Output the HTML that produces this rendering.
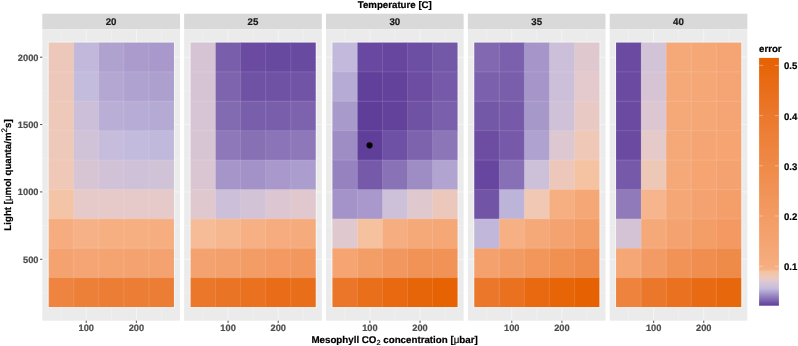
<!DOCTYPE html>
<html><head><meta charset="utf-8"><title>Temperature [C]</title>
<style>
html,body{margin:0;padding:0;background:#fff;}
svg{display:block;}
text{font-family:"Liberation Sans",sans-serif;font-weight:bold;font-size:9.7px;text-rendering:geometricPrecision;stroke-width:0.2px;}
text[fill="#000"]{stroke:#000;}text[fill="#4d4d4d"]{stroke:#4d4d4d;}text[fill="#1a1a1a"]{stroke:#1a1a1a;}
</style></head><body>
<svg width="798" height="346" viewBox="0 0 798 346">
<rect width="798" height="346" fill="#ffffff"/>
<g >

<text x="394.8" y="7.6" text-anchor="middle" fill="#000">Temperature [C]</text>
<rect x="42.30" y="13.7" width="137.65" height="15.55" fill="#d9d9d9"/>
<text x="111.1" y="24.5" text-anchor="middle" fill="#1a1a1a">20</text>
<rect x="42.30" y="29.25" width="137.65" height="291.45" fill="#ebebeb"/>
<line x1="42.30" x2="179.95" y1="292.98" y2="292.98" stroke="#fff" stroke-width="0.25"/>
<line x1="42.30" x2="179.95" y1="225.61" y2="225.61" stroke="#fff" stroke-width="0.25"/>
<line x1="42.30" x2="179.95" y1="158.25" y2="158.25" stroke="#fff" stroke-width="0.25"/>
<line x1="42.30" x2="179.95" y1="90.88" y2="90.88" stroke="#fff" stroke-width="0.25"/>
<line y1="29.25" y2="320.7" x1="61.18" x2="61.18" stroke="#fff" stroke-width="0.25"/>
<line y1="29.25" y2="320.7" x1="111.30" x2="111.30" stroke="#fff" stroke-width="0.25"/>
<line y1="29.25" y2="320.7" x1="161.42" x2="161.42" stroke="#fff" stroke-width="0.25"/>
<line x1="42.30" x2="179.95" y1="259.29" y2="259.29" stroke="#fff" stroke-width="0.5"/>
<line x1="42.30" x2="179.95" y1="191.93" y2="191.93" stroke="#fff" stroke-width="0.5"/>
<line x1="42.30" x2="179.95" y1="124.56" y2="124.56" stroke="#fff" stroke-width="0.5"/>
<line x1="42.30" x2="179.95" y1="57.20" y2="57.20" stroke="#fff" stroke-width="0.5"/>
<line y1="29.25" y2="320.7" x1="86.24" x2="86.24" stroke="#fff" stroke-width="0.5"/>
<line y1="29.25" y2="320.7" x1="136.36" x2="136.36" stroke="#fff" stroke-width="0.5"/>
<rect x="48.65" y="42.45" width="25.66" height="30.01" fill="#edc8ba"/>
<rect x="73.71" y="42.45" width="25.66" height="30.01" fill="#c1b8db"/>
<rect x="98.77" y="42.45" width="25.66" height="30.01" fill="#afa2cf"/>
<rect x="123.83" y="42.45" width="25.66" height="30.01" fill="#aa9bcc"/>
<rect x="148.89" y="42.45" width="25.06" height="30.01" fill="#a898cb"/>
<rect x="48.65" y="71.86" width="25.66" height="30.01" fill="#edc8ba"/>
<rect x="73.71" y="71.86" width="25.66" height="30.01" fill="#c4bcdc"/>
<rect x="98.77" y="71.86" width="25.66" height="30.01" fill="#b4a8d3"/>
<rect x="123.83" y="71.86" width="25.66" height="30.01" fill="#afa2d0"/>
<rect x="148.89" y="71.86" width="25.06" height="30.01" fill="#ada0ce"/>
<rect x="48.65" y="101.26" width="25.66" height="30.01" fill="#eec8b8"/>
<rect x="73.71" y="101.26" width="25.66" height="30.01" fill="#cbbfda"/>
<rect x="98.77" y="101.26" width="25.66" height="30.01" fill="#b9aed6"/>
<rect x="123.83" y="101.26" width="25.66" height="30.01" fill="#b7acd5"/>
<rect x="148.89" y="101.26" width="25.06" height="30.01" fill="#b5aad4"/>
<rect x="48.65" y="130.67" width="25.66" height="30.01" fill="#eec8b8"/>
<rect x="73.71" y="130.67" width="25.66" height="30.01" fill="#d0c2d7"/>
<rect x="98.77" y="130.67" width="25.66" height="30.01" fill="#c6bcdc"/>
<rect x="123.83" y="130.67" width="25.66" height="30.01" fill="#c3bbdd"/>
<rect x="148.89" y="130.67" width="25.06" height="30.01" fill="#c1b9dc"/>
<rect x="48.65" y="160.07" width="25.66" height="30.01" fill="#efc8b7"/>
<rect x="73.71" y="160.07" width="25.66" height="30.01" fill="#d7c5d4"/>
<rect x="98.77" y="160.07" width="25.66" height="30.01" fill="#d1c2d7"/>
<rect x="123.83" y="160.07" width="25.66" height="30.01" fill="#cfc1d8"/>
<rect x="148.89" y="160.07" width="25.06" height="30.01" fill="#d0c2d7"/>
<rect x="48.65" y="189.48" width="25.66" height="30.01" fill="#f4c4a6"/>
<rect x="73.71" y="189.48" width="25.66" height="30.01" fill="#e6c9c9"/>
<rect x="98.77" y="189.48" width="25.66" height="30.01" fill="#e6c9c9"/>
<rect x="123.83" y="189.48" width="25.66" height="30.01" fill="#e6c9c9"/>
<rect x="148.89" y="189.48" width="25.06" height="30.01" fill="#e6c9c9"/>
<rect x="48.65" y="218.88" width="25.66" height="30.01" fill="#f6ac7e"/>
<rect x="73.71" y="218.88" width="25.66" height="30.01" fill="#f6b286"/>
<rect x="98.77" y="218.88" width="25.66" height="30.01" fill="#f6af81"/>
<rect x="123.83" y="218.88" width="25.66" height="30.01" fill="#f6af81"/>
<rect x="148.89" y="218.88" width="25.06" height="30.01" fill="#f6ae80"/>
<rect x="48.65" y="248.29" width="25.66" height="30.01" fill="#f4a370"/>
<rect x="73.71" y="248.29" width="25.66" height="30.01" fill="#f5a573"/>
<rect x="98.77" y="248.29" width="25.66" height="30.01" fill="#f4a471"/>
<rect x="123.83" y="248.29" width="25.66" height="30.01" fill="#f4a370"/>
<rect x="148.89" y="248.29" width="25.06" height="30.01" fill="#f4a370"/>
<rect x="48.65" y="277.69" width="25.66" height="29.41" fill="#ee843f"/>
<rect x="73.71" y="277.69" width="25.66" height="29.41" fill="#ed8039"/>
<rect x="98.77" y="277.69" width="25.66" height="29.41" fill="#ec7d35"/>
<rect x="123.83" y="277.69" width="25.66" height="29.41" fill="#ec7d35"/>
<rect x="148.89" y="277.69" width="25.06" height="29.41" fill="#ec7d35"/>
<rect x="48.15" y="41.95" width="126.30" height="265.65" fill="none" stroke="#fff" stroke-opacity="0.45" stroke-width="1"/>
<line x1="48.65" x2="173.95" y1="71.86" y2="71.86" stroke="#fff" stroke-opacity="0.22" stroke-width="0.6"/>
<line x1="48.65" x2="173.95" y1="101.26" y2="101.26" stroke="#fff" stroke-opacity="0.22" stroke-width="0.6"/>
<line x1="48.65" x2="173.95" y1="130.67" y2="130.67" stroke="#fff" stroke-opacity="0.22" stroke-width="0.6"/>
<line x1="48.65" x2="173.95" y1="160.07" y2="160.07" stroke="#fff" stroke-opacity="0.22" stroke-width="0.6"/>
<line x1="48.65" x2="173.95" y1="189.48" y2="189.48" stroke="#fff" stroke-opacity="0.22" stroke-width="0.6"/>
<line x1="48.65" x2="173.95" y1="218.88" y2="218.88" stroke="#fff" stroke-opacity="0.22" stroke-width="0.6"/>
<line x1="48.65" x2="173.95" y1="248.29" y2="248.29" stroke="#fff" stroke-opacity="0.22" stroke-width="0.6"/>
<line x1="48.65" x2="173.95" y1="277.69" y2="277.69" stroke="#fff" stroke-opacity="0.22" stroke-width="0.6"/>
<line y1="42.45" y2="307.10" x1="73.71" x2="73.71" stroke="#fff" stroke-opacity="0.22" stroke-width="0.6"/>
<line y1="42.45" y2="307.10" x1="98.77" x2="98.77" stroke="#fff" stroke-opacity="0.22" stroke-width="0.6"/>
<line y1="42.45" y2="307.10" x1="123.83" x2="123.83" stroke="#fff" stroke-opacity="0.22" stroke-width="0.6"/>
<line y1="42.45" y2="307.10" x1="148.89" x2="148.89" stroke="#fff" stroke-opacity="0.22" stroke-width="0.6"/>
<line x1="86.24" x2="86.24" y1="320.7" y2="322.9" stroke="#333" stroke-width="0.9"/>
<text x="86.24" y="331.1" text-anchor="middle" fill="#4d4d4d" style="font-size:9.25px">100</text>
<line x1="136.36" x2="136.36" y1="320.7" y2="322.9" stroke="#333" stroke-width="0.9"/>
<text x="136.36" y="331.1" text-anchor="middle" fill="#4d4d4d" style="font-size:9.25px">200</text>
<rect x="184.15" y="13.7" width="137.65" height="15.55" fill="#d9d9d9"/>
<text x="253.0" y="24.5" text-anchor="middle" fill="#1a1a1a">25</text>
<rect x="184.15" y="29.25" width="137.65" height="291.45" fill="#ebebeb"/>
<line x1="184.15" x2="321.80" y1="292.98" y2="292.98" stroke="#fff" stroke-width="0.25"/>
<line x1="184.15" x2="321.80" y1="225.61" y2="225.61" stroke="#fff" stroke-width="0.25"/>
<line x1="184.15" x2="321.80" y1="158.25" y2="158.25" stroke="#fff" stroke-width="0.25"/>
<line x1="184.15" x2="321.80" y1="90.88" y2="90.88" stroke="#fff" stroke-width="0.25"/>
<line y1="29.25" y2="320.7" x1="203.03" x2="203.03" stroke="#fff" stroke-width="0.25"/>
<line y1="29.25" y2="320.7" x1="253.15" x2="253.15" stroke="#fff" stroke-width="0.25"/>
<line y1="29.25" y2="320.7" x1="303.27" x2="303.27" stroke="#fff" stroke-width="0.25"/>
<line x1="184.15" x2="321.80" y1="259.29" y2="259.29" stroke="#fff" stroke-width="0.5"/>
<line x1="184.15" x2="321.80" y1="191.93" y2="191.93" stroke="#fff" stroke-width="0.5"/>
<line x1="184.15" x2="321.80" y1="124.56" y2="124.56" stroke="#fff" stroke-width="0.5"/>
<line x1="184.15" x2="321.80" y1="57.20" y2="57.20" stroke="#fff" stroke-width="0.5"/>
<line y1="29.25" y2="320.7" x1="228.09" x2="228.09" stroke="#fff" stroke-width="0.5"/>
<line y1="29.25" y2="320.7" x1="278.21" x2="278.21" stroke="#fff" stroke-width="0.5"/>
<rect x="190.50" y="42.45" width="25.66" height="30.01" fill="#d6c4d4"/>
<rect x="215.56" y="42.45" width="25.66" height="30.01" fill="#795fab"/>
<rect x="240.62" y="42.45" width="25.66" height="30.01" fill="#6a4ba1"/>
<rect x="265.68" y="42.45" width="25.66" height="30.01" fill="#6849a0"/>
<rect x="290.74" y="42.45" width="25.06" height="30.01" fill="#694aa1"/>
<rect x="190.50" y="71.86" width="25.66" height="30.01" fill="#d6c4d4"/>
<rect x="215.56" y="71.86" width="25.66" height="30.01" fill="#7e64ae"/>
<rect x="240.62" y="71.86" width="25.66" height="30.01" fill="#7052a5"/>
<rect x="265.68" y="71.86" width="25.66" height="30.01" fill="#7052a5"/>
<rect x="290.74" y="71.86" width="25.06" height="30.01" fill="#7154a6"/>
<rect x="190.50" y="101.26" width="25.66" height="30.01" fill="#d7c4d4"/>
<rect x="215.56" y="101.26" width="25.66" height="30.01" fill="#836bb2"/>
<rect x="240.62" y="101.26" width="25.66" height="30.01" fill="#795fab"/>
<rect x="265.68" y="101.26" width="25.66" height="30.01" fill="#795fab"/>
<rect x="290.74" y="101.26" width="25.06" height="30.01" fill="#7d63ae"/>
<rect x="190.50" y="130.67" width="25.66" height="30.01" fill="#d8c5d3"/>
<rect x="215.56" y="130.67" width="25.66" height="30.01" fill="#8e78b9"/>
<rect x="240.62" y="130.67" width="25.66" height="30.01" fill="#8870b5"/>
<rect x="265.68" y="130.67" width="25.66" height="30.01" fill="#8b74b7"/>
<rect x="290.74" y="130.67" width="25.06" height="30.01" fill="#8e78b9"/>
<rect x="190.50" y="160.07" width="25.66" height="30.01" fill="#dac6d2"/>
<rect x="215.56" y="160.07" width="25.66" height="30.01" fill="#a595c9"/>
<rect x="240.62" y="160.07" width="25.66" height="30.01" fill="#a292c7"/>
<rect x="265.68" y="160.07" width="25.66" height="30.01" fill="#a898cb"/>
<rect x="290.74" y="160.07" width="25.06" height="30.01" fill="#ab9dcd"/>
<rect x="190.50" y="189.48" width="25.66" height="30.01" fill="#e0c8cf"/>
<rect x="215.56" y="189.48" width="25.66" height="30.01" fill="#cbbfda"/>
<rect x="240.62" y="189.48" width="25.66" height="30.01" fill="#d3c3d6"/>
<rect x="265.68" y="189.48" width="25.66" height="30.01" fill="#dcc6d2"/>
<rect x="290.74" y="189.48" width="25.06" height="30.01" fill="#e1c8cf"/>
<rect x="190.50" y="218.88" width="25.66" height="30.01" fill="#f5bc97"/>
<rect x="215.56" y="218.88" width="25.66" height="30.01" fill="#f6b78f"/>
<rect x="240.62" y="218.88" width="25.66" height="30.01" fill="#f6b084"/>
<rect x="265.68" y="218.88" width="25.66" height="30.01" fill="#f6ac7e"/>
<rect x="290.74" y="218.88" width="25.06" height="30.01" fill="#f6ab7c"/>
<rect x="190.50" y="248.29" width="25.66" height="30.01" fill="#f4a370"/>
<rect x="215.56" y="248.29" width="25.66" height="30.01" fill="#f4a06c"/>
<rect x="240.62" y="248.29" width="25.66" height="30.01" fill="#f39c66"/>
<rect x="265.68" y="248.29" width="25.66" height="30.01" fill="#f39961"/>
<rect x="290.74" y="248.29" width="25.06" height="30.01" fill="#f2985f"/>
<rect x="190.50" y="277.69" width="25.66" height="29.41" fill="#eb772b"/>
<rect x="215.56" y="277.69" width="25.66" height="29.41" fill="#ea7425"/>
<rect x="240.62" y="277.69" width="25.66" height="29.41" fill="#e9711f"/>
<rect x="265.68" y="277.69" width="25.66" height="29.41" fill="#e96d18"/>
<rect x="290.74" y="277.69" width="25.06" height="29.41" fill="#e96e1a"/>
<rect x="190.00" y="41.95" width="126.30" height="265.65" fill="none" stroke="#fff" stroke-opacity="0.45" stroke-width="1"/>
<line x1="190.50" x2="315.80" y1="71.86" y2="71.86" stroke="#fff" stroke-opacity="0.22" stroke-width="0.6"/>
<line x1="190.50" x2="315.80" y1="101.26" y2="101.26" stroke="#fff" stroke-opacity="0.22" stroke-width="0.6"/>
<line x1="190.50" x2="315.80" y1="130.67" y2="130.67" stroke="#fff" stroke-opacity="0.22" stroke-width="0.6"/>
<line x1="190.50" x2="315.80" y1="160.07" y2="160.07" stroke="#fff" stroke-opacity="0.22" stroke-width="0.6"/>
<line x1="190.50" x2="315.80" y1="189.48" y2="189.48" stroke="#fff" stroke-opacity="0.22" stroke-width="0.6"/>
<line x1="190.50" x2="315.80" y1="218.88" y2="218.88" stroke="#fff" stroke-opacity="0.22" stroke-width="0.6"/>
<line x1="190.50" x2="315.80" y1="248.29" y2="248.29" stroke="#fff" stroke-opacity="0.22" stroke-width="0.6"/>
<line x1="190.50" x2="315.80" y1="277.69" y2="277.69" stroke="#fff" stroke-opacity="0.22" stroke-width="0.6"/>
<line y1="42.45" y2="307.10" x1="215.56" x2="215.56" stroke="#fff" stroke-opacity="0.22" stroke-width="0.6"/>
<line y1="42.45" y2="307.10" x1="240.62" x2="240.62" stroke="#fff" stroke-opacity="0.22" stroke-width="0.6"/>
<line y1="42.45" y2="307.10" x1="265.68" x2="265.68" stroke="#fff" stroke-opacity="0.22" stroke-width="0.6"/>
<line y1="42.45" y2="307.10" x1="290.74" x2="290.74" stroke="#fff" stroke-opacity="0.22" stroke-width="0.6"/>
<line x1="228.09" x2="228.09" y1="320.7" y2="322.9" stroke="#333" stroke-width="0.9"/>
<text x="228.09" y="331.1" text-anchor="middle" fill="#4d4d4d" style="font-size:9.25px">100</text>
<line x1="278.21" x2="278.21" y1="320.7" y2="322.9" stroke="#333" stroke-width="0.9"/>
<text x="278.21" y="331.1" text-anchor="middle" fill="#4d4d4d" style="font-size:9.25px">200</text>
<rect x="326.00" y="13.7" width="137.65" height="15.55" fill="#d9d9d9"/>
<text x="394.8" y="24.5" text-anchor="middle" fill="#1a1a1a">30</text>
<rect x="326.00" y="29.25" width="137.65" height="291.45" fill="#ebebeb"/>
<line x1="326.00" x2="463.65" y1="292.98" y2="292.98" stroke="#fff" stroke-width="0.25"/>
<line x1="326.00" x2="463.65" y1="225.61" y2="225.61" stroke="#fff" stroke-width="0.25"/>
<line x1="326.00" x2="463.65" y1="158.25" y2="158.25" stroke="#fff" stroke-width="0.25"/>
<line x1="326.00" x2="463.65" y1="90.88" y2="90.88" stroke="#fff" stroke-width="0.25"/>
<line y1="29.25" y2="320.7" x1="344.88" x2="344.88" stroke="#fff" stroke-width="0.25"/>
<line y1="29.25" y2="320.7" x1="395.00" x2="395.00" stroke="#fff" stroke-width="0.25"/>
<line y1="29.25" y2="320.7" x1="445.12" x2="445.12" stroke="#fff" stroke-width="0.25"/>
<line x1="326.00" x2="463.65" y1="259.29" y2="259.29" stroke="#fff" stroke-width="0.5"/>
<line x1="326.00" x2="463.65" y1="191.93" y2="191.93" stroke="#fff" stroke-width="0.5"/>
<line x1="326.00" x2="463.65" y1="124.56" y2="124.56" stroke="#fff" stroke-width="0.5"/>
<line x1="326.00" x2="463.65" y1="57.20" y2="57.20" stroke="#fff" stroke-width="0.5"/>
<line y1="29.25" y2="320.7" x1="369.94" x2="369.94" stroke="#fff" stroke-width="0.5"/>
<line y1="29.25" y2="320.7" x1="420.06" x2="420.06" stroke="#fff" stroke-width="0.5"/>
<rect x="332.35" y="42.45" width="25.66" height="30.01" fill="#c2b9dc"/>
<rect x="357.41" y="42.45" width="25.66" height="30.01" fill="#6848a0"/>
<rect x="382.47" y="42.45" width="25.66" height="30.01" fill="#66469e"/>
<rect x="407.53" y="42.45" width="25.66" height="30.01" fill="#6c4ea3"/>
<rect x="432.59" y="42.45" width="25.06" height="30.01" fill="#7458a8"/>
<rect x="332.35" y="71.86" width="25.66" height="30.01" fill="#b6abd4"/>
<rect x="357.41" y="71.86" width="25.66" height="30.01" fill="#61409b"/>
<rect x="382.47" y="71.86" width="25.66" height="30.01" fill="#63429c"/>
<rect x="407.53" y="71.86" width="25.66" height="30.01" fill="#6c4da2"/>
<rect x="432.59" y="71.86" width="25.06" height="30.01" fill="#765aa9"/>
<rect x="332.35" y="101.26" width="25.66" height="30.01" fill="#a99acc"/>
<rect x="357.41" y="101.26" width="25.66" height="30.01" fill="#5f3e9a"/>
<rect x="382.47" y="101.26" width="25.66" height="30.01" fill="#63429c"/>
<rect x="407.53" y="101.26" width="25.66" height="30.01" fill="#7052a5"/>
<rect x="432.59" y="101.26" width="25.06" height="30.01" fill="#7a5fac"/>
<rect x="332.35" y="130.67" width="25.66" height="30.01" fill="#9e8cc4"/>
<rect x="357.41" y="130.67" width="25.66" height="30.01" fill="#603f9b"/>
<rect x="382.47" y="130.67" width="25.66" height="30.01" fill="#6e50a4"/>
<rect x="407.53" y="130.67" width="25.66" height="30.01" fill="#7d63ae"/>
<rect x="432.59" y="130.67" width="25.06" height="30.01" fill="#8c76b8"/>
<rect x="332.35" y="160.07" width="25.66" height="30.01" fill="#9682bf"/>
<rect x="357.41" y="160.07" width="25.66" height="30.01" fill="#765aa9"/>
<rect x="382.47" y="160.07" width="25.66" height="30.01" fill="#8972b6"/>
<rect x="407.53" y="160.07" width="25.66" height="30.01" fill="#9e8cc4"/>
<rect x="432.59" y="160.07" width="25.06" height="30.01" fill="#b1a4d1"/>
<rect x="332.35" y="189.48" width="25.66" height="30.01" fill="#a393c8"/>
<rect x="357.41" y="189.48" width="25.66" height="30.01" fill="#a898cb"/>
<rect x="382.47" y="189.48" width="25.66" height="30.01" fill="#cdc0d9"/>
<rect x="407.53" y="189.48" width="25.66" height="30.01" fill="#e0c8cf"/>
<rect x="432.59" y="189.48" width="25.06" height="30.01" fill="#ecc8bc"/>
<rect x="332.35" y="218.88" width="25.66" height="30.01" fill="#e0c8cf"/>
<rect x="357.41" y="218.88" width="25.66" height="30.01" fill="#f5c19e"/>
<rect x="382.47" y="218.88" width="25.66" height="30.01" fill="#f6ad7f"/>
<rect x="407.53" y="218.88" width="25.66" height="30.01" fill="#f5a878"/>
<rect x="432.59" y="218.88" width="25.06" height="30.01" fill="#f5a776"/>
<rect x="332.35" y="248.29" width="25.66" height="30.01" fill="#f5a472"/>
<rect x="357.41" y="248.29" width="25.66" height="30.01" fill="#f39d67"/>
<rect x="382.47" y="248.29" width="25.66" height="30.01" fill="#f2975e"/>
<rect x="407.53" y="248.29" width="25.66" height="30.01" fill="#f19357"/>
<rect x="432.59" y="248.29" width="25.06" height="30.01" fill="#f19357"/>
<rect x="332.35" y="277.69" width="25.66" height="29.41" fill="#eb7629"/>
<rect x="357.41" y="277.69" width="25.66" height="29.41" fill="#e96f1b"/>
<rect x="382.47" y="277.69" width="25.66" height="29.41" fill="#e86910"/>
<rect x="407.53" y="277.69" width="25.66" height="29.41" fill="#e76509"/>
<rect x="432.59" y="277.69" width="25.06" height="29.41" fill="#e66203"/>
<rect x="331.85" y="41.95" width="126.30" height="265.65" fill="none" stroke="#fff" stroke-opacity="0.45" stroke-width="1"/>
<line x1="332.35" x2="457.65" y1="71.86" y2="71.86" stroke="#fff" stroke-opacity="0.22" stroke-width="0.6"/>
<line x1="332.35" x2="457.65" y1="101.26" y2="101.26" stroke="#fff" stroke-opacity="0.22" stroke-width="0.6"/>
<line x1="332.35" x2="457.65" y1="130.67" y2="130.67" stroke="#fff" stroke-opacity="0.22" stroke-width="0.6"/>
<line x1="332.35" x2="457.65" y1="160.07" y2="160.07" stroke="#fff" stroke-opacity="0.22" stroke-width="0.6"/>
<line x1="332.35" x2="457.65" y1="189.48" y2="189.48" stroke="#fff" stroke-opacity="0.22" stroke-width="0.6"/>
<line x1="332.35" x2="457.65" y1="218.88" y2="218.88" stroke="#fff" stroke-opacity="0.22" stroke-width="0.6"/>
<line x1="332.35" x2="457.65" y1="248.29" y2="248.29" stroke="#fff" stroke-opacity="0.22" stroke-width="0.6"/>
<line x1="332.35" x2="457.65" y1="277.69" y2="277.69" stroke="#fff" stroke-opacity="0.22" stroke-width="0.6"/>
<line y1="42.45" y2="307.10" x1="357.41" x2="357.41" stroke="#fff" stroke-opacity="0.22" stroke-width="0.6"/>
<line y1="42.45" y2="307.10" x1="382.47" x2="382.47" stroke="#fff" stroke-opacity="0.22" stroke-width="0.6"/>
<line y1="42.45" y2="307.10" x1="407.53" x2="407.53" stroke="#fff" stroke-opacity="0.22" stroke-width="0.6"/>
<line y1="42.45" y2="307.10" x1="432.59" x2="432.59" stroke="#fff" stroke-opacity="0.22" stroke-width="0.6"/>
<line x1="369.94" x2="369.94" y1="320.7" y2="322.9" stroke="#333" stroke-width="0.9"/>
<text x="369.94" y="331.1" text-anchor="middle" fill="#4d4d4d" style="font-size:9.25px">100</text>
<line x1="420.06" x2="420.06" y1="320.7" y2="322.9" stroke="#333" stroke-width="0.9"/>
<text x="420.06" y="331.1" text-anchor="middle" fill="#4d4d4d" style="font-size:9.25px">200</text>
<rect x="467.85" y="13.7" width="137.65" height="15.55" fill="#d9d9d9"/>
<text x="536.7" y="24.5" text-anchor="middle" fill="#1a1a1a">35</text>
<rect x="467.85" y="29.25" width="137.65" height="291.45" fill="#ebebeb"/>
<line x1="467.85" x2="605.50" y1="292.98" y2="292.98" stroke="#fff" stroke-width="0.25"/>
<line x1="467.85" x2="605.50" y1="225.61" y2="225.61" stroke="#fff" stroke-width="0.25"/>
<line x1="467.85" x2="605.50" y1="158.25" y2="158.25" stroke="#fff" stroke-width="0.25"/>
<line x1="467.85" x2="605.50" y1="90.88" y2="90.88" stroke="#fff" stroke-width="0.25"/>
<line y1="29.25" y2="320.7" x1="486.73" x2="486.73" stroke="#fff" stroke-width="0.25"/>
<line y1="29.25" y2="320.7" x1="536.85" x2="536.85" stroke="#fff" stroke-width="0.25"/>
<line y1="29.25" y2="320.7" x1="586.97" x2="586.97" stroke="#fff" stroke-width="0.25"/>
<line x1="467.85" x2="605.50" y1="259.29" y2="259.29" stroke="#fff" stroke-width="0.5"/>
<line x1="467.85" x2="605.50" y1="191.93" y2="191.93" stroke="#fff" stroke-width="0.5"/>
<line x1="467.85" x2="605.50" y1="124.56" y2="124.56" stroke="#fff" stroke-width="0.5"/>
<line x1="467.85" x2="605.50" y1="57.20" y2="57.20" stroke="#fff" stroke-width="0.5"/>
<line y1="29.25" y2="320.7" x1="511.79" x2="511.79" stroke="#fff" stroke-width="0.5"/>
<line y1="29.25" y2="320.7" x1="561.91" x2="561.91" stroke="#fff" stroke-width="0.5"/>
<rect x="474.20" y="42.45" width="25.66" height="30.01" fill="#8168b1"/>
<rect x="499.26" y="42.45" width="25.66" height="30.01" fill="#7b61ad"/>
<rect x="524.32" y="42.45" width="25.66" height="30.01" fill="#a595c9"/>
<rect x="549.38" y="42.45" width="25.66" height="30.01" fill="#cbbfda"/>
<rect x="574.44" y="42.45" width="25.06" height="30.01" fill="#e0c8cf"/>
<rect x="474.20" y="71.86" width="25.66" height="30.01" fill="#7b61ad"/>
<rect x="499.26" y="71.86" width="25.66" height="30.01" fill="#795fab"/>
<rect x="524.32" y="71.86" width="25.66" height="30.01" fill="#a595c9"/>
<rect x="549.38" y="71.86" width="25.66" height="30.01" fill="#cbbfda"/>
<rect x="574.44" y="71.86" width="25.06" height="30.01" fill="#e4c9cd"/>
<rect x="474.20" y="101.26" width="25.66" height="30.01" fill="#7458a8"/>
<rect x="499.26" y="101.26" width="25.66" height="30.01" fill="#765aa9"/>
<rect x="524.32" y="101.26" width="25.66" height="30.01" fill="#a798ca"/>
<rect x="549.38" y="101.26" width="25.66" height="30.01" fill="#cfc1d8"/>
<rect x="574.44" y="101.26" width="25.06" height="30.01" fill="#e8c9c4"/>
<rect x="474.20" y="130.67" width="25.66" height="30.01" fill="#6c4da2"/>
<rect x="499.26" y="130.67" width="25.66" height="30.01" fill="#765aa9"/>
<rect x="524.32" y="130.67" width="25.66" height="30.01" fill="#afa2d0"/>
<rect x="549.38" y="130.67" width="25.66" height="30.01" fill="#ddc7d1"/>
<rect x="574.44" y="130.67" width="25.06" height="30.01" fill="#efc8b7"/>
<rect x="474.20" y="160.07" width="25.66" height="30.01" fill="#66469e"/>
<rect x="499.26" y="160.07" width="25.66" height="30.01" fill="#8770b5"/>
<rect x="524.32" y="160.07" width="25.66" height="30.01" fill="#cdc0d9"/>
<rect x="549.38" y="160.07" width="25.66" height="30.01" fill="#edc8ba"/>
<rect x="574.44" y="160.07" width="25.06" height="30.01" fill="#f5c3a2"/>
<rect x="474.20" y="189.48" width="25.66" height="30.01" fill="#7154a6"/>
<rect x="499.26" y="189.48" width="25.66" height="30.01" fill="#bdb4d9"/>
<rect x="524.32" y="189.48" width="25.66" height="30.01" fill="#f0c8b4"/>
<rect x="549.38" y="189.48" width="25.66" height="30.01" fill="#f6af81"/>
<rect x="574.44" y="189.48" width="25.06" height="30.01" fill="#f5a776"/>
<rect x="474.20" y="218.88" width="25.66" height="30.01" fill="#c0b7db"/>
<rect x="499.26" y="218.88" width="25.66" height="30.01" fill="#f6b084"/>
<rect x="524.32" y="218.88" width="25.66" height="30.01" fill="#f5a979"/>
<rect x="549.38" y="218.88" width="25.66" height="30.01" fill="#f4a370"/>
<rect x="574.44" y="218.88" width="25.06" height="30.01" fill="#f39d67"/>
<rect x="474.20" y="248.29" width="25.66" height="30.01" fill="#f4a16d"/>
<rect x="499.26" y="248.29" width="25.66" height="30.01" fill="#f39b64"/>
<rect x="524.32" y="248.29" width="25.66" height="30.01" fill="#f2965b"/>
<rect x="549.38" y="248.29" width="25.66" height="30.01" fill="#f09051"/>
<rect x="574.44" y="248.29" width="25.06" height="30.01" fill="#ef8c4b"/>
<rect x="474.20" y="277.69" width="25.66" height="29.41" fill="#eb772b"/>
<rect x="499.26" y="277.69" width="25.66" height="29.41" fill="#e9711f"/>
<rect x="524.32" y="277.69" width="25.66" height="29.41" fill="#e86910"/>
<rect x="549.38" y="277.69" width="25.66" height="29.41" fill="#e76407"/>
<rect x="574.44" y="277.69" width="25.06" height="29.41" fill="#e66101"/>
<rect x="473.70" y="41.95" width="126.30" height="265.65" fill="none" stroke="#fff" stroke-opacity="0.45" stroke-width="1"/>
<line x1="474.20" x2="599.50" y1="71.86" y2="71.86" stroke="#fff" stroke-opacity="0.22" stroke-width="0.6"/>
<line x1="474.20" x2="599.50" y1="101.26" y2="101.26" stroke="#fff" stroke-opacity="0.22" stroke-width="0.6"/>
<line x1="474.20" x2="599.50" y1="130.67" y2="130.67" stroke="#fff" stroke-opacity="0.22" stroke-width="0.6"/>
<line x1="474.20" x2="599.50" y1="160.07" y2="160.07" stroke="#fff" stroke-opacity="0.22" stroke-width="0.6"/>
<line x1="474.20" x2="599.50" y1="189.48" y2="189.48" stroke="#fff" stroke-opacity="0.22" stroke-width="0.6"/>
<line x1="474.20" x2="599.50" y1="218.88" y2="218.88" stroke="#fff" stroke-opacity="0.22" stroke-width="0.6"/>
<line x1="474.20" x2="599.50" y1="248.29" y2="248.29" stroke="#fff" stroke-opacity="0.22" stroke-width="0.6"/>
<line x1="474.20" x2="599.50" y1="277.69" y2="277.69" stroke="#fff" stroke-opacity="0.22" stroke-width="0.6"/>
<line y1="42.45" y2="307.10" x1="499.26" x2="499.26" stroke="#fff" stroke-opacity="0.22" stroke-width="0.6"/>
<line y1="42.45" y2="307.10" x1="524.32" x2="524.32" stroke="#fff" stroke-opacity="0.22" stroke-width="0.6"/>
<line y1="42.45" y2="307.10" x1="549.38" x2="549.38" stroke="#fff" stroke-opacity="0.22" stroke-width="0.6"/>
<line y1="42.45" y2="307.10" x1="574.44" x2="574.44" stroke="#fff" stroke-opacity="0.22" stroke-width="0.6"/>
<line x1="511.79" x2="511.79" y1="320.7" y2="322.9" stroke="#333" stroke-width="0.9"/>
<text x="511.79" y="331.1" text-anchor="middle" fill="#4d4d4d" style="font-size:9.25px">100</text>
<line x1="561.91" x2="561.91" y1="320.7" y2="322.9" stroke="#333" stroke-width="0.9"/>
<text x="561.91" y="331.1" text-anchor="middle" fill="#4d4d4d" style="font-size:9.25px">200</text>
<rect x="609.70" y="13.7" width="137.65" height="15.55" fill="#d9d9d9"/>
<text x="678.5" y="24.5" text-anchor="middle" fill="#1a1a1a">40</text>
<rect x="609.70" y="29.25" width="137.65" height="291.45" fill="#ebebeb"/>
<line x1="609.70" x2="747.35" y1="292.98" y2="292.98" stroke="#fff" stroke-width="0.25"/>
<line x1="609.70" x2="747.35" y1="225.61" y2="225.61" stroke="#fff" stroke-width="0.25"/>
<line x1="609.70" x2="747.35" y1="158.25" y2="158.25" stroke="#fff" stroke-width="0.25"/>
<line x1="609.70" x2="747.35" y1="90.88" y2="90.88" stroke="#fff" stroke-width="0.25"/>
<line y1="29.25" y2="320.7" x1="628.58" x2="628.58" stroke="#fff" stroke-width="0.25"/>
<line y1="29.25" y2="320.7" x1="678.70" x2="678.70" stroke="#fff" stroke-width="0.25"/>
<line y1="29.25" y2="320.7" x1="728.82" x2="728.82" stroke="#fff" stroke-width="0.25"/>
<line x1="609.70" x2="747.35" y1="259.29" y2="259.29" stroke="#fff" stroke-width="0.5"/>
<line x1="609.70" x2="747.35" y1="191.93" y2="191.93" stroke="#fff" stroke-width="0.5"/>
<line x1="609.70" x2="747.35" y1="124.56" y2="124.56" stroke="#fff" stroke-width="0.5"/>
<line x1="609.70" x2="747.35" y1="57.20" y2="57.20" stroke="#fff" stroke-width="0.5"/>
<line y1="29.25" y2="320.7" x1="653.64" x2="653.64" stroke="#fff" stroke-width="0.5"/>
<line y1="29.25" y2="320.7" x1="703.76" x2="703.76" stroke="#fff" stroke-width="0.5"/>
<rect x="616.05" y="42.45" width="25.66" height="30.01" fill="#6a4ba1"/>
<rect x="641.11" y="42.45" width="25.66" height="30.01" fill="#d3c3d6"/>
<rect x="666.17" y="42.45" width="25.66" height="30.01" fill="#f5a979"/>
<rect x="691.23" y="42.45" width="25.66" height="30.01" fill="#f5a776"/>
<rect x="716.29" y="42.45" width="25.06" height="30.01" fill="#f5a573"/>
<rect x="616.05" y="71.86" width="25.66" height="30.01" fill="#6a4ba1"/>
<rect x="641.11" y="71.86" width="25.66" height="30.01" fill="#d6c4d4"/>
<rect x="666.17" y="71.86" width="25.66" height="30.01" fill="#f5a979"/>
<rect x="691.23" y="71.86" width="25.66" height="30.01" fill="#f5a776"/>
<rect x="716.29" y="71.86" width="25.06" height="30.01" fill="#f5a573"/>
<rect x="616.05" y="101.26" width="25.66" height="30.01" fill="#6a4ba1"/>
<rect x="641.11" y="101.26" width="25.66" height="30.01" fill="#dcc6d1"/>
<rect x="666.17" y="101.26" width="25.66" height="30.01" fill="#f5a979"/>
<rect x="691.23" y="101.26" width="25.66" height="30.01" fill="#f5a776"/>
<rect x="716.29" y="101.26" width="25.06" height="30.01" fill="#f5a573"/>
<rect x="616.05" y="130.67" width="25.66" height="30.01" fill="#6a4ba1"/>
<rect x="641.11" y="130.67" width="25.66" height="30.01" fill="#e6c9c9"/>
<rect x="666.17" y="130.67" width="25.66" height="30.01" fill="#f5a979"/>
<rect x="691.23" y="130.67" width="25.66" height="30.01" fill="#f5a573"/>
<rect x="716.29" y="130.67" width="25.06" height="30.01" fill="#f5a472"/>
<rect x="616.05" y="160.07" width="25.66" height="30.01" fill="#765aa9"/>
<rect x="641.11" y="160.07" width="25.66" height="30.01" fill="#eec8b7"/>
<rect x="666.17" y="160.07" width="25.66" height="30.01" fill="#f5a878"/>
<rect x="691.23" y="160.07" width="25.66" height="30.01" fill="#f5a472"/>
<rect x="716.29" y="160.07" width="25.06" height="30.01" fill="#f4a370"/>
<rect x="616.05" y="189.48" width="25.66" height="30.01" fill="#907aba"/>
<rect x="641.11" y="189.48" width="25.66" height="30.01" fill="#f6b58c"/>
<rect x="666.17" y="189.48" width="25.66" height="30.01" fill="#f5a776"/>
<rect x="691.23" y="189.48" width="25.66" height="30.01" fill="#f4a370"/>
<rect x="716.29" y="189.48" width="25.06" height="30.01" fill="#f49f6a"/>
<rect x="616.05" y="218.88" width="25.66" height="30.01" fill="#d4c3d5"/>
<rect x="641.11" y="218.88" width="25.66" height="30.01" fill="#f5a979"/>
<rect x="666.17" y="218.88" width="25.66" height="30.01" fill="#f4a370"/>
<rect x="691.23" y="218.88" width="25.66" height="30.01" fill="#f39d67"/>
<rect x="716.29" y="218.88" width="25.06" height="30.01" fill="#f39961"/>
<rect x="616.05" y="248.29" width="25.66" height="30.01" fill="#f5a776"/>
<rect x="641.11" y="248.29" width="25.66" height="30.01" fill="#f39b64"/>
<rect x="666.17" y="248.29" width="25.66" height="30.01" fill="#f19357"/>
<rect x="691.23" y="248.29" width="25.66" height="30.01" fill="#f08e4f"/>
<rect x="716.29" y="248.29" width="25.06" height="30.01" fill="#ef8b49"/>
<rect x="616.05" y="277.69" width="25.66" height="29.41" fill="#ed833d"/>
<rect x="641.11" y="277.69" width="25.66" height="29.41" fill="#eb772b"/>
<rect x="666.17" y="277.69" width="25.66" height="29.41" fill="#e9711f"/>
<rect x="691.23" y="277.69" width="25.66" height="29.41" fill="#e86b14"/>
<rect x="716.29" y="277.69" width="25.06" height="29.41" fill="#e7670d"/>
<rect x="615.55" y="41.95" width="126.30" height="265.65" fill="none" stroke="#fff" stroke-opacity="0.45" stroke-width="1"/>
<line x1="616.05" x2="741.35" y1="71.86" y2="71.86" stroke="#fff" stroke-opacity="0.22" stroke-width="0.6"/>
<line x1="616.05" x2="741.35" y1="101.26" y2="101.26" stroke="#fff" stroke-opacity="0.22" stroke-width="0.6"/>
<line x1="616.05" x2="741.35" y1="130.67" y2="130.67" stroke="#fff" stroke-opacity="0.22" stroke-width="0.6"/>
<line x1="616.05" x2="741.35" y1="160.07" y2="160.07" stroke="#fff" stroke-opacity="0.22" stroke-width="0.6"/>
<line x1="616.05" x2="741.35" y1="189.48" y2="189.48" stroke="#fff" stroke-opacity="0.22" stroke-width="0.6"/>
<line x1="616.05" x2="741.35" y1="218.88" y2="218.88" stroke="#fff" stroke-opacity="0.22" stroke-width="0.6"/>
<line x1="616.05" x2="741.35" y1="248.29" y2="248.29" stroke="#fff" stroke-opacity="0.22" stroke-width="0.6"/>
<line x1="616.05" x2="741.35" y1="277.69" y2="277.69" stroke="#fff" stroke-opacity="0.22" stroke-width="0.6"/>
<line y1="42.45" y2="307.10" x1="641.11" x2="641.11" stroke="#fff" stroke-opacity="0.22" stroke-width="0.6"/>
<line y1="42.45" y2="307.10" x1="666.17" x2="666.17" stroke="#fff" stroke-opacity="0.22" stroke-width="0.6"/>
<line y1="42.45" y2="307.10" x1="691.23" x2="691.23" stroke="#fff" stroke-opacity="0.22" stroke-width="0.6"/>
<line y1="42.45" y2="307.10" x1="716.29" x2="716.29" stroke="#fff" stroke-opacity="0.22" stroke-width="0.6"/>
<line x1="653.64" x2="653.64" y1="320.7" y2="322.9" stroke="#333" stroke-width="0.9"/>
<text x="653.64" y="331.1" text-anchor="middle" fill="#4d4d4d" style="font-size:9.25px">100</text>
<line x1="703.76" x2="703.76" y1="320.7" y2="322.9" stroke="#333" stroke-width="0.9"/>
<text x="703.76" y="331.1" text-anchor="middle" fill="#4d4d4d" style="font-size:9.25px">200</text>
<circle cx="369.54" cy="145.3" r="3.1" fill="#000"/>
<line x1="40.10" x2="42.3" y1="259.29" y2="259.29" stroke="#333" stroke-width="0.9"/>
<text x="38.45" y="262.79" text-anchor="end" fill="#4d4d4d" style="font-size:9.25px">500</text>
<line x1="40.10" x2="42.3" y1="191.93" y2="191.93" stroke="#333" stroke-width="0.9"/>
<text x="38.45" y="195.43" text-anchor="end" fill="#4d4d4d" style="font-size:9.25px">1000</text>
<line x1="40.10" x2="42.3" y1="124.56" y2="124.56" stroke="#333" stroke-width="0.9"/>
<text x="38.45" y="128.06" text-anchor="end" fill="#4d4d4d" style="font-size:9.25px">1500</text>
<line x1="40.10" x2="42.3" y1="57.20" y2="57.20" stroke="#333" stroke-width="0.9"/>
<text x="38.45" y="60.70" text-anchor="end" fill="#4d4d4d" style="font-size:9.25px">2000</text>
<text x="394.6" y="342.6" text-anchor="middle" fill="#000" style="font-size:9.75px">Mesophyll CO<tspan font-size="7.4" dy="1.9" font-weight="normal">2</tspan><tspan dy="-1.9"> concentration [</tspan><tspan font-weight="normal">μ</tspan>bar]</text>
<text transform="translate(10.8,175.0) rotate(-90)" text-anchor="middle" fill="#000">Light [<tspan font-weight="normal">μ</tspan>mol quanta/m<tspan font-size="8" dy="-4.2" font-weight="normal">2</tspan><tspan dy="4.2">s]</tspan></text>
<text x="759" y="51.5" fill="#000">error</text>
<defs><linearGradient id="lg" x1="0" y1="1" x2="0" y2="0">
<stop offset="0.0000" stop-color="#5e3c99"/>
<stop offset="0.0040" stop-color="#64439d"/>
<stop offset="0.0080" stop-color="#6a4ba1"/>
<stop offset="0.0120" stop-color="#7052a5"/>
<stop offset="0.0161" stop-color="#765aa9"/>
<stop offset="0.0201" stop-color="#7c61ad"/>
<stop offset="0.0241" stop-color="#8169b1"/>
<stop offset="0.0281" stop-color="#8770b5"/>
<stop offset="0.0321" stop-color="#8d77b9"/>
<stop offset="0.0361" stop-color="#937fbd"/>
<stop offset="0.0402" stop-color="#9986c1"/>
<stop offset="0.0442" stop-color="#9f8ec5"/>
<stop offset="0.0482" stop-color="#a595c9"/>
<stop offset="0.0522" stop-color="#ab9dcd"/>
<stop offset="0.0562" stop-color="#b1a4d1"/>
<stop offset="0.0602" stop-color="#b7abd5"/>
<stop offset="0.0643" stop-color="#bcb3d9"/>
<stop offset="0.0683" stop-color="#c2badd"/>
<stop offset="0.0723" stop-color="#c6bddb"/>
<stop offset="0.0763" stop-color="#cabfda"/>
<stop offset="0.0803" stop-color="#cec1d8"/>
<stop offset="0.0843" stop-color="#d2c2d6"/>
<stop offset="0.0884" stop-color="#d5c4d5"/>
<stop offset="0.0924" stop-color="#d9c5d3"/>
<stop offset="0.0964" stop-color="#dcc7d1"/>
<stop offset="0.1004" stop-color="#e0c8d0"/>
<stop offset="0.1044" stop-color="#e3c9ce"/>
<stop offset="0.1084" stop-color="#e7c9c7"/>
<stop offset="0.1124" stop-color="#eac8c0"/>
<stop offset="0.1165" stop-color="#edc8ba"/>
<stop offset="0.1205" stop-color="#f0c8b3"/>
<stop offset="0.1245" stop-color="#f1c7af"/>
<stop offset="0.1285" stop-color="#f2c6ab"/>
<stop offset="0.1325" stop-color="#f4c4a7"/>
<stop offset="0.1365" stop-color="#f5c3a3"/>
<stop offset="0.1406" stop-color="#f5bd98"/>
<stop offset="0.1446" stop-color="#f6b58b"/>
<stop offset="0.1486" stop-color="#f6b185"/>
<stop offset="0.1526" stop-color="#f6b083"/>
<stop offset="0.1566" stop-color="#f6ae80"/>
<stop offset="0.1606" stop-color="#f6ad7f"/>
<stop offset="0.1647" stop-color="#f6ad7e"/>
<stop offset="0.1687" stop-color="#f6ac7e"/>
<stop offset="0.1727" stop-color="#f6ac7d"/>
<stop offset="0.1767" stop-color="#f6ab7d"/>
<stop offset="0.1807" stop-color="#f6ab7c"/>
<stop offset="0.1847" stop-color="#f6ab7c"/>
<stop offset="0.1888" stop-color="#f6aa7b"/>
<stop offset="0.1928" stop-color="#f6aa7b"/>
<stop offset="0.1968" stop-color="#f5aa7a"/>
<stop offset="0.2008" stop-color="#f5a979"/>
<stop offset="0.2048" stop-color="#f5a979"/>
<stop offset="0.2088" stop-color="#f5a978"/>
<stop offset="0.2129" stop-color="#f5a878"/>
<stop offset="0.2169" stop-color="#f5a877"/>
<stop offset="0.2209" stop-color="#f5a877"/>
<stop offset="0.2249" stop-color="#f5a776"/>
<stop offset="0.2289" stop-color="#f5a776"/>
<stop offset="0.2329" stop-color="#f5a675"/>
<stop offset="0.2369" stop-color="#f5a675"/>
<stop offset="0.2410" stop-color="#f5a674"/>
<stop offset="0.2450" stop-color="#f5a574"/>
<stop offset="0.2490" stop-color="#f5a573"/>
<stop offset="0.2530" stop-color="#f5a573"/>
<stop offset="0.2570" stop-color="#f5a472"/>
<stop offset="0.2610" stop-color="#f4a471"/>
<stop offset="0.2651" stop-color="#f4a471"/>
<stop offset="0.2691" stop-color="#f4a370"/>
<stop offset="0.2731" stop-color="#f4a370"/>
<stop offset="0.2771" stop-color="#f4a36f"/>
<stop offset="0.2811" stop-color="#f4a26f"/>
<stop offset="0.2851" stop-color="#f4a26e"/>
<stop offset="0.2892" stop-color="#f4a16e"/>
<stop offset="0.2932" stop-color="#f4a16d"/>
<stop offset="0.2972" stop-color="#f4a16d"/>
<stop offset="0.3012" stop-color="#f4a06c"/>
<stop offset="0.3052" stop-color="#f4a06c"/>
<stop offset="0.3092" stop-color="#f4a06b"/>
<stop offset="0.3133" stop-color="#f49f6b"/>
<stop offset="0.3173" stop-color="#f49f6a"/>
<stop offset="0.3213" stop-color="#f49f69"/>
<stop offset="0.3253" stop-color="#f49e69"/>
<stop offset="0.3293" stop-color="#f39e68"/>
<stop offset="0.3333" stop-color="#f39e68"/>
<stop offset="0.3373" stop-color="#f39d67"/>
<stop offset="0.3414" stop-color="#f39d67"/>
<stop offset="0.3454" stop-color="#f39c66"/>
<stop offset="0.3494" stop-color="#f39c66"/>
<stop offset="0.3534" stop-color="#f39c65"/>
<stop offset="0.3574" stop-color="#f39b65"/>
<stop offset="0.3614" stop-color="#f39b64"/>
<stop offset="0.3655" stop-color="#f39b64"/>
<stop offset="0.3695" stop-color="#f39a63"/>
<stop offset="0.3735" stop-color="#f39a62"/>
<stop offset="0.3775" stop-color="#f39a62"/>
<stop offset="0.3815" stop-color="#f39961"/>
<stop offset="0.3855" stop-color="#f39961"/>
<stop offset="0.3896" stop-color="#f29960"/>
<stop offset="0.3936" stop-color="#f29860"/>
<stop offset="0.3976" stop-color="#f2985f"/>
<stop offset="0.4016" stop-color="#f2985f"/>
<stop offset="0.4056" stop-color="#f2975e"/>
<stop offset="0.4096" stop-color="#f2975d"/>
<stop offset="0.4137" stop-color="#f2975d"/>
<stop offset="0.4177" stop-color="#f2965c"/>
<stop offset="0.4217" stop-color="#f2965c"/>
<stop offset="0.4257" stop-color="#f2965b"/>
<stop offset="0.4297" stop-color="#f2955b"/>
<stop offset="0.4337" stop-color="#f2955a"/>
<stop offset="0.4378" stop-color="#f2955a"/>
<stop offset="0.4418" stop-color="#f19459"/>
<stop offset="0.4458" stop-color="#f19458"/>
<stop offset="0.4498" stop-color="#f19458"/>
<stop offset="0.4538" stop-color="#f19357"/>
<stop offset="0.4578" stop-color="#f19357"/>
<stop offset="0.4618" stop-color="#f19356"/>
<stop offset="0.4659" stop-color="#f19256"/>
<stop offset="0.4699" stop-color="#f19255"/>
<stop offset="0.4739" stop-color="#f19255"/>
<stop offset="0.4779" stop-color="#f19154"/>
<stop offset="0.4819" stop-color="#f19153"/>
<stop offset="0.4859" stop-color="#f19153"/>
<stop offset="0.4900" stop-color="#f09052"/>
<stop offset="0.4940" stop-color="#f09052"/>
<stop offset="0.4980" stop-color="#f09051"/>
<stop offset="0.5020" stop-color="#f08f51"/>
<stop offset="0.5060" stop-color="#f08f50"/>
<stop offset="0.5100" stop-color="#f08f50"/>
<stop offset="0.5141" stop-color="#f08e4f"/>
<stop offset="0.5181" stop-color="#f08e4e"/>
<stop offset="0.5221" stop-color="#f08e4e"/>
<stop offset="0.5261" stop-color="#f08d4d"/>
<stop offset="0.5301" stop-color="#f08d4d"/>
<stop offset="0.5341" stop-color="#f08d4c"/>
<stop offset="0.5382" stop-color="#f08c4c"/>
<stop offset="0.5422" stop-color="#ef8c4b"/>
<stop offset="0.5462" stop-color="#ef8c4b"/>
<stop offset="0.5502" stop-color="#ef8b4a"/>
<stop offset="0.5542" stop-color="#ef8b49"/>
<stop offset="0.5582" stop-color="#ef8b49"/>
<stop offset="0.5622" stop-color="#ef8a48"/>
<stop offset="0.5663" stop-color="#ef8a48"/>
<stop offset="0.5703" stop-color="#ef8947"/>
<stop offset="0.5743" stop-color="#ef8947"/>
<stop offset="0.5783" stop-color="#ef8946"/>
<stop offset="0.5823" stop-color="#ef8846"/>
<stop offset="0.5863" stop-color="#ef8845"/>
<stop offset="0.5904" stop-color="#ee8845"/>
<stop offset="0.5944" stop-color="#ee8744"/>
<stop offset="0.5984" stop-color="#ee8743"/>
<stop offset="0.6024" stop-color="#ee8743"/>
<stop offset="0.6064" stop-color="#ee8642"/>
<stop offset="0.6104" stop-color="#ee8642"/>
<stop offset="0.6145" stop-color="#ee8641"/>
<stop offset="0.6185" stop-color="#ee8541"/>
<stop offset="0.6225" stop-color="#ee8540"/>
<stop offset="0.6265" stop-color="#ee8540"/>
<stop offset="0.6305" stop-color="#ee843f"/>
<stop offset="0.6345" stop-color="#ee843f"/>
<stop offset="0.6386" stop-color="#ee833e"/>
<stop offset="0.6426" stop-color="#ed833e"/>
<stop offset="0.6466" stop-color="#ed833d"/>
<stop offset="0.6506" stop-color="#ed823d"/>
<stop offset="0.6546" stop-color="#ed823c"/>
<stop offset="0.6586" stop-color="#ed823b"/>
<stop offset="0.6627" stop-color="#ed813b"/>
<stop offset="0.6667" stop-color="#ed813a"/>
<stop offset="0.6707" stop-color="#ed813a"/>
<stop offset="0.6747" stop-color="#ed8039"/>
<stop offset="0.6787" stop-color="#ed8039"/>
<stop offset="0.6827" stop-color="#ed8038"/>
<stop offset="0.6867" stop-color="#ed7f38"/>
<stop offset="0.6908" stop-color="#ed7f37"/>
<stop offset="0.6948" stop-color="#ec7e37"/>
<stop offset="0.6988" stop-color="#ec7e36"/>
<stop offset="0.7028" stop-color="#ec7e36"/>
<stop offset="0.7068" stop-color="#ec7d35"/>
<stop offset="0.7108" stop-color="#ec7d35"/>
<stop offset="0.7149" stop-color="#ec7d34"/>
<stop offset="0.7189" stop-color="#ec7c33"/>
<stop offset="0.7229" stop-color="#ec7c33"/>
<stop offset="0.7269" stop-color="#ec7c32"/>
<stop offset="0.7309" stop-color="#ec7b32"/>
<stop offset="0.7349" stop-color="#ec7b31"/>
<stop offset="0.7390" stop-color="#ec7b31"/>
<stop offset="0.7430" stop-color="#eb7a30"/>
<stop offset="0.7470" stop-color="#eb7a30"/>
<stop offset="0.7510" stop-color="#eb792f"/>
<stop offset="0.7550" stop-color="#eb792f"/>
<stop offset="0.7590" stop-color="#eb792e"/>
<stop offset="0.7631" stop-color="#eb782e"/>
<stop offset="0.7671" stop-color="#eb782d"/>
<stop offset="0.7711" stop-color="#eb782c"/>
<stop offset="0.7751" stop-color="#eb772c"/>
<stop offset="0.7791" stop-color="#eb772b"/>
<stop offset="0.7831" stop-color="#eb762a"/>
<stop offset="0.7871" stop-color="#eb7629"/>
<stop offset="0.7912" stop-color="#ea7628"/>
<stop offset="0.7952" stop-color="#ea7528"/>
<stop offset="0.7992" stop-color="#ea7527"/>
<stop offset="0.8032" stop-color="#ea7426"/>
<stop offset="0.8072" stop-color="#ea7425"/>
<stop offset="0.8112" stop-color="#ea7425"/>
<stop offset="0.8153" stop-color="#ea7324"/>
<stop offset="0.8193" stop-color="#ea7323"/>
<stop offset="0.8233" stop-color="#ea7222"/>
<stop offset="0.8273" stop-color="#ea7222"/>
<stop offset="0.8313" stop-color="#ea7221"/>
<stop offset="0.8353" stop-color="#ea7120"/>
<stop offset="0.8394" stop-color="#e9711f"/>
<stop offset="0.8434" stop-color="#e9701f"/>
<stop offset="0.8474" stop-color="#e9701e"/>
<stop offset="0.8514" stop-color="#e9701d"/>
<stop offset="0.8554" stop-color="#e96f1c"/>
<stop offset="0.8594" stop-color="#e96f1c"/>
<stop offset="0.8635" stop-color="#e96e1b"/>
<stop offset="0.8675" stop-color="#e96e1a"/>
<stop offset="0.8715" stop-color="#e96e19"/>
<stop offset="0.8755" stop-color="#e96d19"/>
<stop offset="0.8795" stop-color="#e96d18"/>
<stop offset="0.8835" stop-color="#e96d17"/>
<stop offset="0.8876" stop-color="#e86c16"/>
<stop offset="0.8916" stop-color="#e86c15"/>
<stop offset="0.8956" stop-color="#e86b15"/>
<stop offset="0.8996" stop-color="#e86b14"/>
<stop offset="0.9036" stop-color="#e86b13"/>
<stop offset="0.9076" stop-color="#e86a12"/>
<stop offset="0.9116" stop-color="#e86a12"/>
<stop offset="0.9157" stop-color="#e86911"/>
<stop offset="0.9197" stop-color="#e86910"/>
<stop offset="0.9237" stop-color="#e8690f"/>
<stop offset="0.9277" stop-color="#e8680f"/>
<stop offset="0.9317" stop-color="#e7680e"/>
<stop offset="0.9357" stop-color="#e7670d"/>
<stop offset="0.9398" stop-color="#e7670c"/>
<stop offset="0.9438" stop-color="#e7670c"/>
<stop offset="0.9478" stop-color="#e7660b"/>
<stop offset="0.9518" stop-color="#e7660a"/>
<stop offset="0.9558" stop-color="#e76509"/>
<stop offset="0.9598" stop-color="#e76509"/>
<stop offset="0.9639" stop-color="#e76508"/>
<stop offset="0.9679" stop-color="#e76407"/>
<stop offset="0.9719" stop-color="#e76406"/>
<stop offset="0.9759" stop-color="#e76306"/>
<stop offset="0.9799" stop-color="#e66305"/>
<stop offset="0.9839" stop-color="#e66304"/>
<stop offset="0.9880" stop-color="#e66203"/>
<stop offset="0.9920" stop-color="#e66203"/>
<stop offset="0.9960" stop-color="#e66102"/>
<stop offset="1.0000" stop-color="#e66101"/>
</linearGradient></defs>
<rect x="759.1" y="57.9" width="19.8" height="247.80" fill="url(#lg)"/>
<line x1="759.1" x2="763.1" y1="266.20" y2="266.20" stroke="#fff" stroke-opacity="0.75" stroke-width="0.5"/>
<line x1="774.9" x2="778.9" y1="266.20" y2="266.20" stroke="#fff" stroke-opacity="0.75" stroke-width="0.5"/>
<text x="783.9" y="270.15" fill="#000" style="font-size:9.6px">0.1</text>
<line x1="759.1" x2="763.1" y1="216.00" y2="216.00" stroke="#fff" stroke-opacity="0.75" stroke-width="0.5"/>
<line x1="774.9" x2="778.9" y1="216.00" y2="216.00" stroke="#fff" stroke-opacity="0.75" stroke-width="0.5"/>
<text x="783.9" y="219.95" fill="#000" style="font-size:9.6px">0.2</text>
<line x1="759.1" x2="763.1" y1="165.80" y2="165.80" stroke="#fff" stroke-opacity="0.75" stroke-width="0.5"/>
<line x1="774.9" x2="778.9" y1="165.80" y2="165.80" stroke="#fff" stroke-opacity="0.75" stroke-width="0.5"/>
<text x="783.9" y="169.75" fill="#000" style="font-size:9.6px">0.3</text>
<line x1="759.1" x2="763.1" y1="115.60" y2="115.60" stroke="#fff" stroke-opacity="0.75" stroke-width="0.5"/>
<line x1="774.9" x2="778.9" y1="115.60" y2="115.60" stroke="#fff" stroke-opacity="0.75" stroke-width="0.5"/>
<text x="783.9" y="119.55" fill="#000" style="font-size:9.6px">0.4</text>
<line x1="759.1" x2="763.1" y1="65.40" y2="65.40" stroke="#fff" stroke-opacity="0.75" stroke-width="0.5"/>
<line x1="774.9" x2="778.9" y1="65.40" y2="65.40" stroke="#fff" stroke-opacity="0.75" stroke-width="0.5"/>
<text x="783.9" y="69.35" fill="#000" style="font-size:9.6px">0.5</text>
</g></svg></body></html>
